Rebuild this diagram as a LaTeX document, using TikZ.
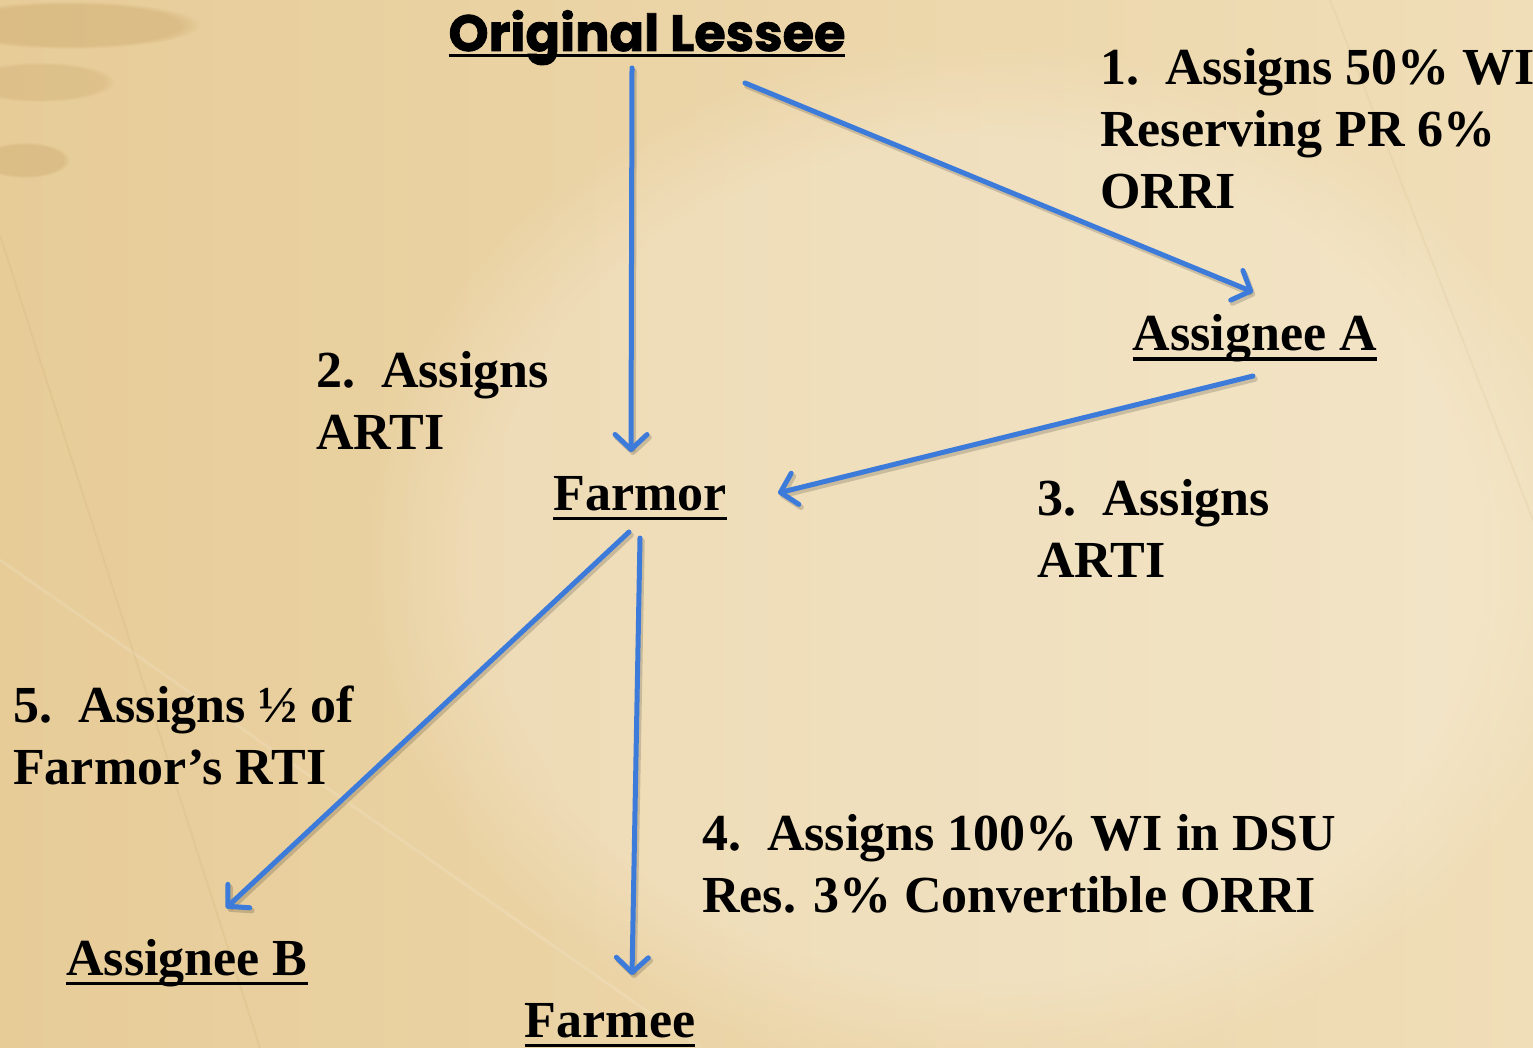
\documentclass[tikz,border=0pt]{standalone}
\usepackage{fontspec}
\setmainfont{Liberation Serif}
\newfontfamily\headfont{Poppins}[BoldFeatures={FakeBold=1.6}]
\usetikzlibrary{arrows.meta,fadings}

\definecolor{paperdark}{HTML}{E7CC98}
\definecolor{paperlight}{HTML}{F0DEB8}
\definecolor{smudge}{HTML}{B8914E}
\definecolor{linkblue}{HTML}{3D7BDA}

% underline drawn as a rule below the baseline
\newcommand\ulbox[2][0.19em]{\setbox0\hbox{#2}\rlap{\rule[-#1]{\wd0}{0.065em}}\box0}

\tikzset{
  title/.style={font=\headfont\bfseries\fontsize{51}{55}\selectfont, inner sep=0pt, anchor=base},
  party/.style={font=\bfseries\fontsize{52}{62}\selectfont, inner sep=0pt, anchor=base},
  note/.style={font=\bfseries\fontsize{52}{62}\selectfont, inner sep=0pt, anchor=base west},
  link/.style={draw=linkblue, line width=5pt, line cap=round, line join=round,
    -{Straight Barb[length=15pt,width=32pt,round]}},
  linkshadow/.style={draw=black, opacity=0.16, line width=5.5pt, line cap=round, line join=round,
    -{Straight Barb[length=15pt,width=32pt,round]}}
}
\newcommand\linkarrow[2]{%
  \draw[linkshadow, transform canvas={shift={(2pt,-3pt)}}] (#1) -- (#2);
  \draw[link] (#1) -- (#2);}

\begin{document}
\begin{tikzpicture}[x=1pt,y=-1pt]
  \useasboundingbox (0,0) rectangle (1533,1048);
  \begin{scope}
  \clip (0,0) rectangle (1533,1048);
  % paper background
  \shade[left color=paperdark, right color=paperlight] (0,0) rectangle (1533,1048);
  \fill[white, opacity=0.22, path fading=circle with fuzzy edge 20 percent] (980,560) ellipse (620 and 520);
  \fill[smudge, opacity=0.26, path fading=circle with fuzzy edge 15 percent] (70,25) ellipse (130 and 24);
  \fill[smudge, opacity=0.20, path fading=circle with fuzzy edge 15 percent] (40,82) ellipse (75 and 20);
  \fill[smudge, opacity=0.24, path fading=circle with fuzzy edge 15 percent] (25,160) ellipse (45 and 18);
  % faint creases in the paper
  \draw[smudge, opacity=0.10, line width=2pt] (0,235) -- (260,1048);
  \draw[smudge, opacity=0.08, line width=2pt] (1330,0) -- (1533,520);
  \draw[white, opacity=0.12, line width=3pt] (0,560) -- (700,1048);
  \end{scope}

  % parties
  \node[title] (lessee) at (647,51) {\ulbox[0.12em]{Original Lessee}};
  \node[party] (assA) at (1255,351) {\ulbox{Assignee A}};
  \node[party] (farmor) at (640,510) {\ulbox{Farmor}};
  \node[party] (assB) at (187,975) {\ulbox{Assignee B}};
  \node[party] (farmee) at (610,1037) {\ulbox{Farmee}};

  % transaction notes
  \node[note] (n1) at (1100,85) {\begin{tabular}[t]{@{}l@{}}1.\ \ Assigns 50\% WI\\Reserving PR 6\%\\ORRI\end{tabular}};
  \node[note] (n2) at (316,387) {\begin{tabular}[t]{@{}l@{}}2.\ \ Assigns\\ARTI\end{tabular}};
  \node[note] (n3) at (1037,515) {\begin{tabular}[t]{@{}l@{}}3.\ \ Assigns\\ARTI\end{tabular}};
  \node[note] (n5) at (13,722) {\begin{tabular}[t]{@{}l@{}}5.\ \ Assigns ½ of\\Farmor’s RTI\end{tabular}};
  \node[note] (n4) at (702,850) {\begin{tabular}[t]{@{}l@{}}4.\ \ Assigns 100\% WI in DSU\\Res. 3\% Convertible ORRI\end{tabular}};

  % connector end points
  \coordinate (l1s) at (745,83);   \coordinate (l1e) at (1253,292);
  \coordinate (l2s) at (632,68);   \coordinate (l2e) at (631,452);
  \coordinate (l3s) at (1253,376); \coordinate (l3e) at (778,493);
  \coordinate (l4s) at (640,538);  \coordinate (l4e) at (632,975);
  \coordinate (l5s) at (629,532);  \coordinate (l5e) at (226,908);

  \linkarrow{l1s}{l1e}
  \linkarrow{l2s}{l2e}
  \linkarrow{l3s}{l3e}
  \linkarrow{l4s}{l4e}
  \linkarrow{l5s}{l5e}
\end{tikzpicture}
\end{document}
